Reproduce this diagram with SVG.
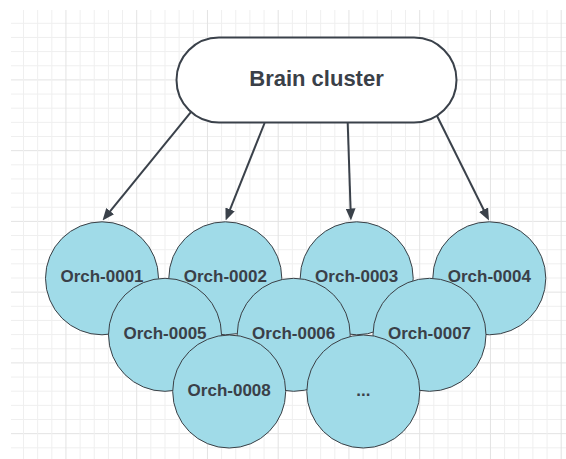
<svg xmlns="http://www.w3.org/2000/svg" width="566" height="459" viewBox="0 0 566 459">
  <style>
    .g { stroke: #efefef; stroke-width: 1; }
    .gd { stroke: #e3e3e3; stroke-width: 1; }
    .orch circle { fill: #a0dbe8; stroke: #3a3f45; stroke-width: 1; }
    .lbl { font-family: "Liberation Sans", Arial, sans-serif; font-weight: bold; fill: #3a4048; text-anchor: middle; }
    .o { font-size: 17px; }
    .conn line { stroke: #3a414a; stroke-width: 2; fill: none; }
  </style>
  <defs>
    <marker id="ah" markerUnits="userSpaceOnUse" markerWidth="12" markerHeight="10" refX="4" refY="5" orient="auto">
      <path d="M0,0 L12,5 L0,10 z" fill="#3a414a"/>
    </marker>
  </defs>
  <rect x="0" y="0" width="566" height="459" fill="#ffffff"/>
  <g id="grid">
    <path class="g" d="M11,23.3H566 M11,37.45H566 M11,51.6H566 M11,65.75H566 M11,94.05H566 M11,108.2H566 M11,122.35H566 M11,136.5H566 M11,164.8H566 M11,178.95H566 M11,193.1H566 M11,207.25H566 M11,235.55H566 M11,249.7H566 M11,263.85H566 M11,278H566 M11,306.3H566 M11,320.45H566 M11,334.6H566 M11,348.75H566 M11,377.05H566 M11,391.2H566 M11,405.35H566 M11,419.5H566 M11,447.8H566"/>
    <path class="gd" d="M11,79.9H566 M11,150.65H566 M11,221.4H566 M11,292.15H566 M11,362.9H566 M11,433.65H566"/>
    <path class="g" d="M23.5,10V459 M37.65,10V459 M51.8,10V459 M80.1,10V459 M94.25,10V459 M108.4,10V459 M122.55,10V459 M150.85,10V459 M165,10V459 M179.15,10V459 M193.3,10V459 M221.6,10V459 M235.75,10V459 M249.9,10V459 M264.05,10V459 M292.35,10V459 M306.5,10V459 M320.65,10V459 M334.8,10V459 M363.1,10V459 M377.25,10V459 M391.4,10V459 M405.55,10V459 M433.85,10V459 M448,10V459 M462.15,10V459 M476.3,10V459 M504.6,10V459 M518.75,10V459 M532.9,10V459 M547.05,10V459"/>
    <path class="gd" d="M65.95,10V459 M136.7,10V459 M207.45,10V459 M278.2,10V459 M348.95,10V459 M419.7,10V459 M490.45,10V459 M561.2,10V459"/>
  </g>
  <g id="conns" class="conn">
    <line x1="191.3" y1="111.7" x2="107.6" y2="214.3" marker-end="url(#ah)"/>
    <line x1="264.6" y1="123" x2="228.6" y2="213.1" marker-end="url(#ah)"/>
    <line x1="347.7" y1="123" x2="350.7" y2="212.5" marker-end="url(#ah)"/>
    <line x1="435.7" y1="113.3" x2="485.4" y2="213.3" marker-end="url(#ah)"/>
  </g>
  <g id="brain">
    <rect x="176.5" y="37.5" width="280" height="85" rx="42.5" ry="42.5" fill="#ffffff" stroke="#3a414a" stroke-width="2"/>
    <text class="lbl" x="316.5" y="85.5" font-size="22">Brain cluster</text>
  </g>
  <g id="orch-0001" class="orch"><circle cx="102" cy="278.3" r="56.5"/><text class="lbl o" x="102" y="282">Orch-0001</text></g>
  <g id="orch-0002" class="orch"><circle cx="225.3" cy="278.3" r="56.5"/><text class="lbl o" x="225.3" y="282">Orch-0002</text></g>
  <g id="orch-0003" class="orch"><circle cx="356.7" cy="278.3" r="56.5"/><text class="lbl o" x="356.7" y="282">Orch-0003</text></g>
  <g id="orch-0004" class="orch"><circle cx="489.3" cy="278.3" r="56.5"/><text class="lbl o" x="489.3" y="282">Orch-0004</text></g>
  <g id="orch-0005" class="orch"><circle cx="165" cy="334.8" r="56.5"/><text class="lbl o" x="165" y="338.5">Orch-0005</text></g>
  <g id="orch-0006" class="orch"><circle cx="293.7" cy="334.8" r="56.5"/><text class="lbl o" x="293.7" y="338.5">Orch-0006</text></g>
  <g id="orch-0007" class="orch"><circle cx="429.5" cy="334.8" r="56.5"/><text class="lbl o" x="429.5" y="338.5">Orch-0007</text></g>
  <g id="orch-0008" class="orch"><circle cx="229.2" cy="391.5" r="56.5"/><text class="lbl o" x="229.2" y="395.5">Orch-0008</text></g>
  <g id="orch-more" class="orch"><circle cx="363.3" cy="391.5" r="56.5"/><text class="lbl o" x="363.3" y="395.5">...</text></g>
</svg>
